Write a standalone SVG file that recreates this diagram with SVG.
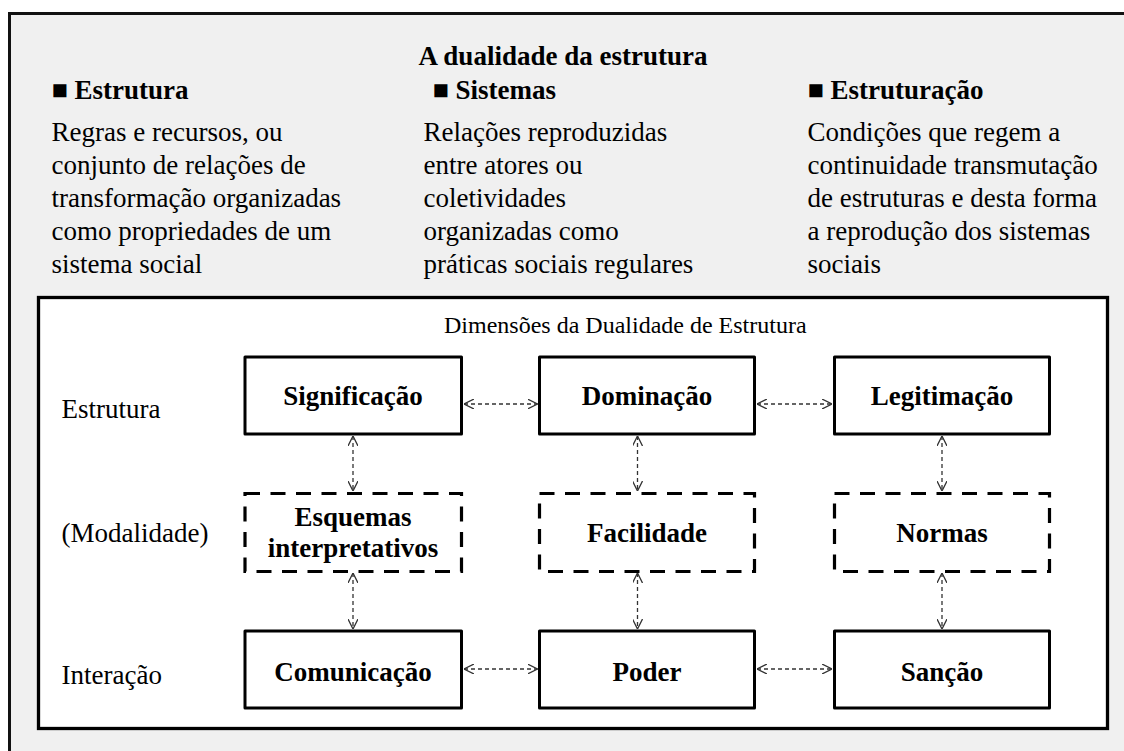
<svg xmlns="http://www.w3.org/2000/svg" width="1124" height="751" viewBox="0 0 1124 751">
<style>
  text { font-family: "Liberation Serif", "Times New Roman", serif; fill: #000; }
  .reg { font-size: 27px; }
  .bold { font-size: 27px; font-weight: bold; }
  .lbl { font-size: 27px; font-weight: bold; text-anchor: middle; }
  .solid { fill: #fff; stroke: #000; stroke-width: 3; stroke-linejoin: round; }
  .dash { fill: #fff; stroke: #000; stroke-width: 3.2; stroke-dasharray: 15 10.5; }
  .conn { fill: none; stroke: #333; stroke-width: 1.3; stroke-dasharray: 4 3; marker-start: url(#arr); marker-end: url(#arr); }
</style>
<defs>
  <marker id="arr" viewBox="0 0 10 10" refX="10" refY="5" markerWidth="10" markerHeight="10" markerUnits="userSpaceOnUse" orient="auto-start-reverse">
    <path d="M0,0 L10,5 L0,10" fill="none" stroke="#333" stroke-width="1.3"/>
  </marker>
</defs>
<rect x="0" y="0" width="1124" height="751" fill="#fff"/>
<g id="outer">
  <rect x="9.5" y="13.5" width="1140" height="760" fill="#f0f0f0" stroke="#111" stroke-width="3"/>
</g>
<g id="header">
  <text class="bold" x="563" y="65" text-anchor="middle">A dualidade da estrutura</text>
  <text class="bold" x="51.5" y="98.5">■ Estrutura</text>
  <text class="bold" x="432.5" y="98.5">■ Sistemas</text>
  <text class="bold" x="807.5" y="98.5">■ Estruturação</text>
  <text class="reg" x="51.5" y="140.5">Regras e recursos, ou</text>
  <text class="reg" x="51.5" y="173.5">conjunto de relações de</text>
  <text class="reg" x="51.5" y="206.5">transformação organizadas</text>
  <text class="reg" x="51.5" y="239.5">como propriedades de um</text>
  <text class="reg" x="51.5" y="272.5">sistema social</text>
  <text class="reg" x="423.5" y="140.5">Relações reproduzidas</text>
  <text class="reg" x="423.5" y="173.5">entre atores ou</text>
  <text class="reg" x="423.5" y="206.5">coletividades</text>
  <text class="reg" x="423.5" y="239.5">organizadas como</text>
  <text class="reg" x="423.5" y="272.5">práticas sociais regulares</text>
  <text class="reg" x="807.5" y="140.5">Condições que regem a</text>
  <text class="reg" x="807.5" y="173.5">continuidade transmutação</text>
  <text class="reg" x="807.5" y="206.5">de estruturas e desta forma</text>
  <text class="reg" x="807.5" y="239.5">a reprodução dos sistemas</text>
  <text class="reg" x="807.5" y="272.5">sociais</text>
</g>
<g id="dimensoes">
  <rect x="38.5" y="297.5" width="1069" height="431" fill="#fff" stroke="#000" stroke-width="3.3"/>
  <text x="444" y="333" style="font-size:24px">Dimensões da Dualidade de Estrutura</text>
  <text class="reg" x="61.5" y="418">Estrutura</text>
  <text class="reg" x="61.5" y="542">(Modalidade)</text>
  <text class="reg" x="61.5" y="684">Interação</text>
</g>
<g id="connectors">
  <path class="conn" d="M464,404 H537.5"/>
  <path class="conn" d="M757,404 H832"/>
  <path class="conn" d="M464,669 H537.5"/>
  <path class="conn" d="M757,669 H832"/>
  <path class="conn" d="M353,436 V491"/>
  <path class="conn" d="M353,573 V629"/>
  <path class="conn" d="M637.5,436 V491"/>
  <path class="conn" d="M637.5,573 V629"/>
  <path class="conn" d="M942,436 V491"/>
  <path class="conn" d="M942,573 V629"/>
</g>
<g id="significacao">
  <rect class="solid" x="245" y="357" width="216.5" height="77"/>
  <text class="lbl" x="353" y="405">Significação</text>
</g>
<g id="dominacao">
  <rect class="solid" x="539.5" y="357" width="215" height="77"/>
  <text class="lbl" x="647" y="405">Dominação</text>
</g>
<g id="legitimacao">
  <rect class="solid" x="834.5" y="357" width="215" height="77"/>
  <text class="lbl" x="942" y="405">Legitimação</text>
</g>
<g id="esquemas">
  <rect class="dash" x="245" y="493.5" width="216.5" height="78"/>
  <text class="lbl" x="353" y="526">Esquemas</text>
  <text class="lbl" x="353" y="556.5">interpretativos</text>
</g>
<g id="facilidade">
  <rect class="dash" x="539.5" y="493.5" width="215" height="78"/>
  <text class="lbl" x="647" y="541.5">Facilidade</text>
</g>
<g id="normas">
  <rect class="dash" x="834.5" y="493.5" width="215" height="78"/>
  <text class="lbl" x="942" y="541.5">Normas</text>
</g>
<g id="comunicacao">
  <rect class="solid" x="245" y="631" width="216.5" height="77"/>
  <text class="lbl" x="353" y="680.5">Comunicação</text>
</g>
<g id="poder">
  <rect class="solid" x="539.5" y="631" width="215" height="77"/>
  <text class="lbl" x="647" y="680.5">Poder</text>
</g>
<g id="sancao">
  <rect class="solid" x="834.5" y="631" width="215" height="77"/>
  <text class="lbl" x="942" y="680.5">Sanção</text>
</g>
</svg>
